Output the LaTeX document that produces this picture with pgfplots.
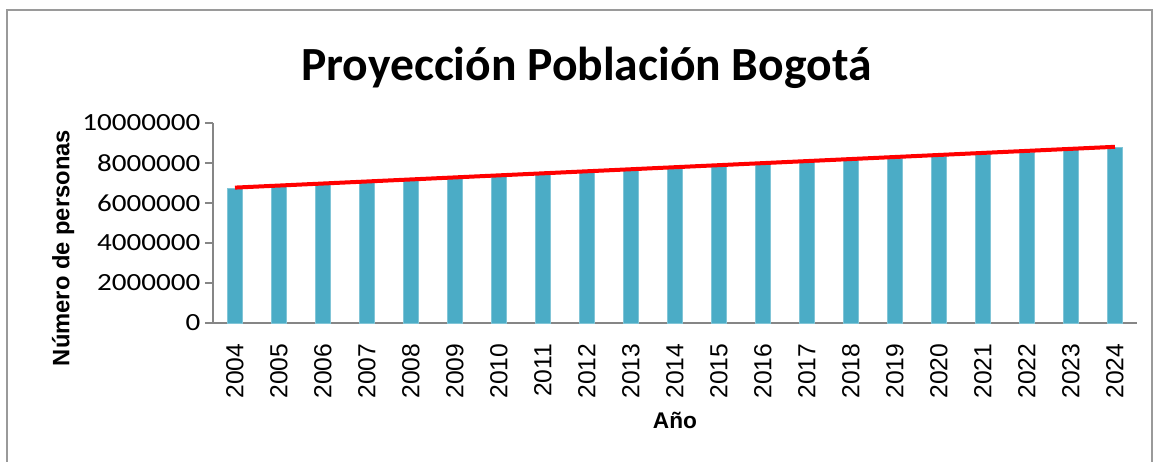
\documentclass[border=0pt]{standalone}
\usepackage{pgfplots}
\pgfplotsset{compat=1.18}
\usepackage{fontspec}
\setmainfont{Carlito}
\newfontfamily\arialfont{Liberation Sans}
\definecolor{barteal}{HTML}{4BACC6}
\definecolor{axgray}{HTML}{868686}
\definecolor{framegray}{HTML}{9A9A9A}
\newcommand{\sx}[1]{\scalebox{1.18}[1]{#1}}
\pgfplotstableread{
x year pop
0 2004 6730000
1 2005 6830000
2 2006 6930000
3 2007 7030000
4 2008 7130000
5 2009 7230000
6 2010 7330000
7 2011 7430000
8 2012 7530000
9 2013 7630000
10 2014 7720000
11 2015 7820000
12 2016 7920000
13 2017 8020000
14 2018 8120000
15 2019 8220000
16 2020 8330000
17 2021 8430000
18 2022 8550000
19 2023 8670000
20 2024 8790000
}\datatable
\begin{document}
\begin{tikzpicture}
\useasboundingbox (-159.75pt,-103.5pt) rectangle (705.75pt,242.25pt);
\draw[framegray, line width=1pt] (-154.5pt,-120pt) -- (-154.5pt,234.75pt) -- (704.25pt,234.75pt) -- (704.25pt,-120pt);
\begin{axis}[
  at={(0pt,0pt)}, anchor=south west,
  scale only axis, width=693pt, height=150pt,
  xmin=-0.5, xmax=20.5, ymin=0, ymax=10000000,
  axis x line*=bottom, axis y line*=left,
  axis line style={axgray, line width=1pt},
  xtick=data,
  xticklabels={2004,2005,2006,2007,2008,2009,2010,2011,2012,2013,2014,2015,2016,2017,2018,2019,2020,2021,2022,2023,2024},
  major x tick style={draw=none},
  xticklabel style={font=\arialfont\fontsize{18.5}{18.5}\selectfont, rotate=90, anchor=east},
  xticklabel shift=6pt,
  ytick={0,2000000,4000000,6000000,8000000,10000000},
  yticklabels={\sx{0},\sx{2000000},\sx{4000000},\sx{6000000},\sx{8000000},\sx{10000000}},
  yticklabel style={font=\fontsize{18.5}{18.5}\selectfont},
  y tick style={axgray, line width=1pt},
  tick align=outside, major tick length=6pt,
  scaled y ticks=false,
  ylabel={\arialfont\bfseries Número de personas},
  ylabel style={font=\fontsize{17.8}{17.8}\selectfont, at={(rel axis cs:-0.1623,0.375)}, anchor=center},
  xlabel={\arialfont\bfseries Año},
  xlabel style={font=\fontsize{17}{17}\selectfont, at={(rel axis cs:0.5,-0.485)}, anchor=center},
  clip=false,
]
\addplot[ybar, bar width=11.25pt, fill=barteal, draw=barteal!70!white] table[x=x, y=pop] {\datatable};
\addplot[red, line width=3pt, mark=none] coordinates {(0,6770000) (20,8810000)};
\node[font=\bfseries\fontsize{35.7}{36}\selectfont, anchor=base] at (rel axis cs:0.404,1.215) {Proyección Población Bogotá};
\end{axis}
\end{tikzpicture}
\end{document}
